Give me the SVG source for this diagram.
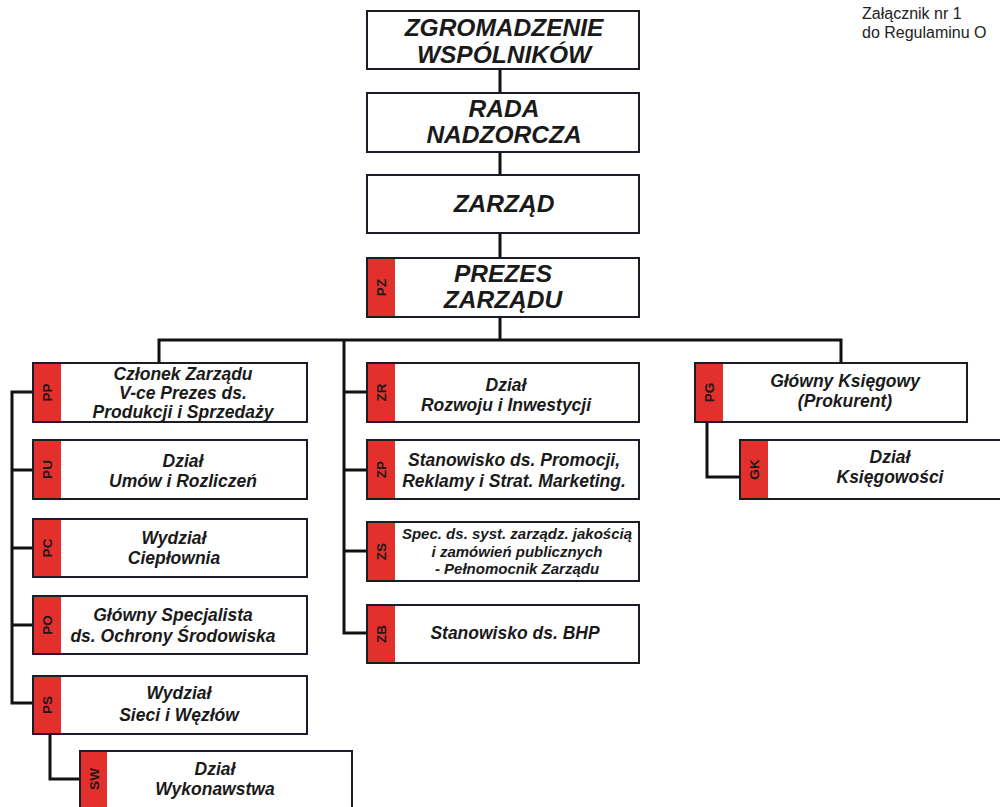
<svg xmlns="http://www.w3.org/2000/svg" width="1000" height="807" viewBox="0 0 1000 807">
<style>
.box{fill:#fff;stroke:#1c1c28;stroke-width:2}
.tag{fill:#e3302d}
.conn{fill:none;stroke:#111;stroke-width:3}
.big{font-family:"Liberation Sans",Arial,sans-serif;font-weight:bold;font-style:italic;font-size:24.5px;fill:#1a1a1a;text-anchor:middle}
.t{font-family:"Liberation Sans",Arial,sans-serif;font-weight:bold;font-style:italic;font-size:17.5px;fill:#1a1a1a;text-anchor:middle}
.s{font-family:"Liberation Sans",Arial,sans-serif;font-weight:bold;font-style:italic;font-size:15px;fill:#1a1a1a;text-anchor:middle}
.lab{font-family:"Liberation Sans",Arial,sans-serif;font-weight:bold;font-size:13.5px;fill:#1a1a1a;text-anchor:middle;dominant-baseline:central}
.note{font-family:"Liberation Sans",Arial,sans-serif;font-size:16px;fill:#222}
</style>
<rect width="1000" height="807" fill="#fff"/>
<g id="connectors">
<path class="conn" d="M500 69V93M500 152V175M500 233V258M500 317V340"/>
<path class="conn" d="M159 363V340H841V363"/>
<path class="conn" d="M33 392H12V703H33M12 470H33M12 548H33M12 625H33"/>
<path class="conn" d="M344 340V633H367M344 392H367M344 470H367M344 551H367"/>
<path class="conn" d="M50 734V779H80"/>
<path class="conn" d="M707 422V477H740"/>
</g>
<g id="note"><text class="note" x="862" y="19">Załącznik nr 1</text><text class="note" x="862" y="38">do Regulaminu O</text></g>
<g id="zgromadzenie"><rect class="box" x="367" y="11" width="272" height="58"/><text class="big" x="504" y="36">ZGROMADZENIE</text><text class="big" x="504" y="63">WSPÓLNIKÓW</text></g>
<g id="rada"><rect class="box" x="367" y="93" width="272" height="59"/><text class="big" x="504" y="117">RADA</text><text class="big" x="504" y="143">NADZORCZA</text></g>
<g id="zarzad"><rect class="box" x="367" y="175" width="272" height="58"/><text class="big" x="504" y="212">ZARZĄD</text></g>
<g id="prezes"><rect class="box" x="367" y="258" width="272" height="59"/><rect class="tag" x="368" y="259" width="27" height="57"/><text class="lab" transform="translate(381.5 287.5) rotate(-90)">PZ</text><text class="big" x="503" y="282">PREZES</text><text class="big" x="503" y="308">ZARZĄDU</text></g>
<g id="pp"><rect class="box" x="33" y="363" width="274" height="59"/><rect class="tag" x="34" y="364" width="27" height="57"/><text class="lab" transform="translate(47.5 392.5) rotate(-90)">PP</text><text class="t" x="183" y="380">Członek Zarządu</text><text class="t" x="183" y="399">V-ce Prezes ds.</text><text class="t" x="183" y="418">Produkcji i Sprzedaży</text></g>
<g id="pu"><rect class="box" x="33" y="440" width="274" height="59"/><rect class="tag" x="34" y="441" width="27" height="57"/><text class="lab" transform="translate(47.5 469.5) rotate(-90)">PU</text><text class="t" x="183" y="467">Dział</text><text class="t" x="183" y="487">Umów i Rozliczeń</text></g>
<g id="pc"><rect class="box" x="33" y="519" width="274" height="58"/><rect class="tag" x="34" y="520" width="27" height="56"/><text class="lab" transform="translate(47.5 548) rotate(-90)">PC</text><text class="t" x="174" y="544">Wydział</text><text class="t" x="174" y="564">Ciepłownia</text></g>
<g id="po"><rect class="box" x="33" y="596" width="274" height="58"/><rect class="tag" x="34" y="597" width="27" height="56"/><text class="lab" transform="translate(47.5 625) rotate(-90)">PO</text><text class="t" x="173" y="621">Główny Specjalista</text><text class="t" x="173" y="642">ds. Ochrony Środowiska</text></g>
<g id="ps"><rect class="box" x="33" y="676" width="274" height="58"/><rect class="tag" x="34" y="677" width="27" height="56"/><text class="lab" transform="translate(47.5 705) rotate(-90)">PS</text><text class="t" x="179" y="699">Wydział</text><text class="t" x="179" y="721">Sieci i Węzłów</text></g>
<g id="sw"><rect class="box" x="80" y="751" width="272" height="70"/><rect class="tag" x="81" y="752" width="26" height="60"/><text class="lab" transform="translate(94 779) rotate(-90)">SW</text><text class="t" x="215" y="775">Dział</text><text class="t" x="215" y="795">Wykonawstwa</text></g>
<g id="zr"><rect class="box" x="367" y="363" width="272" height="59"/><rect class="tag" x="368" y="364" width="27" height="57"/><text class="lab" transform="translate(381.5 392.5) rotate(-90)">ZR</text><text class="t" x="506" y="391">Dział</text><text class="t" x="506" y="411">Rozwoju i Inwestycji</text></g>
<g id="zp"><rect class="box" x="367" y="440" width="272" height="59"/><rect class="tag" x="368" y="441" width="27" height="57"/><text class="lab" transform="translate(381.5 469.5) rotate(-90)">ZP</text><text class="t" x="514" y="466">Stanowisko ds. Promocji,</text><text class="t" x="514" y="487">Reklamy i Strat. Marketing.</text></g>
<g id="zs"><rect class="box" x="367" y="522" width="272" height="59"/><rect class="tag" x="368" y="523" width="27" height="57"/><text class="lab" transform="translate(381.5 551.5) rotate(-90)">ZS</text><text class="s" x="517" y="539">Spec. ds. syst. zarządz. jakością</text><text class="s" x="517" y="557">i zamówień publicznych</text><text class="s" x="517" y="574">- Pełnomocnik Zarządu</text></g>
<g id="zb"><rect class="box" x="367" y="605" width="272" height="58"/><rect class="tag" x="368" y="606" width="27" height="56"/><text class="lab" transform="translate(381.5 634) rotate(-90)">ZB</text><text class="t" x="515" y="639">Stanowisko ds. BHP</text></g>
<g id="pg"><rect class="box" x="695" y="363" width="272" height="59"/><rect class="tag" x="696" y="364" width="27" height="57"/><text class="lab" transform="translate(709.5 392.5) rotate(-90)">PG</text><text class="t" x="845" y="387">Główny Księgowy</text><text class="t" x="845" y="407">(Prokurent)</text></g>
<g id="gk"><rect class="box" x="740" y="440" width="272" height="59"/><rect class="tag" x="741" y="441" width="27" height="57"/><text class="lab" transform="translate(754.5 469.5) rotate(-90)">GK</text><text class="t" x="890" y="463">Dział</text><text class="t" x="890" y="483">Księgowości</text></g>
</svg>
